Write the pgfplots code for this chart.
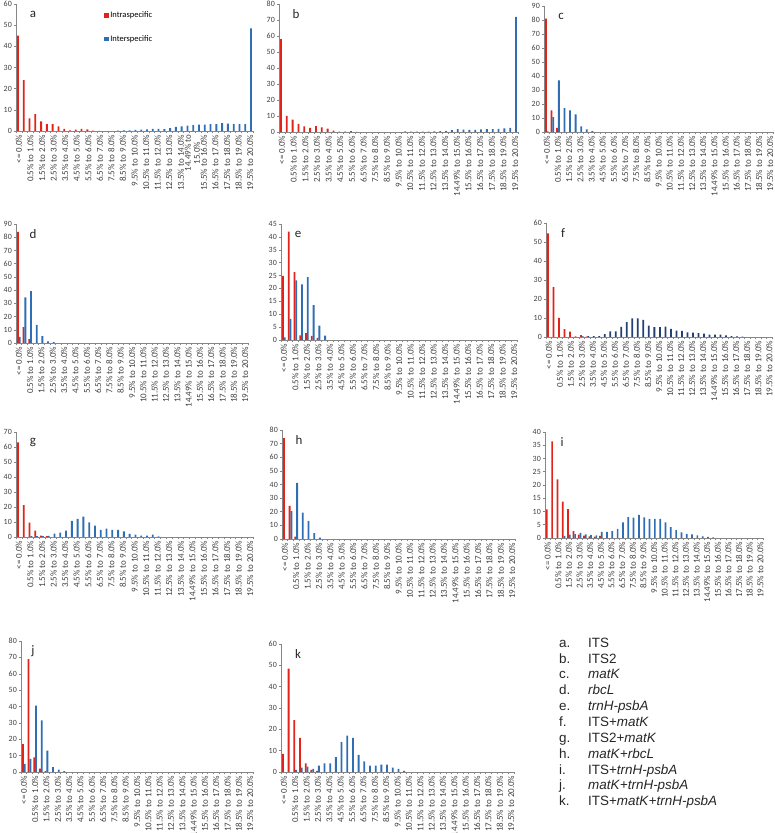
\documentclass[border=0pt]{standalone}
\usepackage{pgfplots}
\pgfplotsset{compat=1.18}
\usepackage{fontspec}
\setmainfont{Carlito}
\newfontfamily\arialf{Liberation Sans}
\definecolor{intra}{HTML}{E2231A}
\definecolor{inter}{HTML}{2F6DB5}
\definecolor{interdark}{HTML}{243F73}
\definecolor{axgray}{HTML}{868686}
\definecolor{txtgray}{HTML}{404040}
\newcommand{\catlabels}{{<= 0.0\%},{0.5\% to 1.0\%},{1.5\% to 2.0\%},{2.5\% to 3.0\%},{3.5\% to 4.0\%},{4.5\% to 5.0\%},{5.5\% to 6.0\%},{6.5\% to 7.0\%},{7.5\% to 8.0\%},{8.5\% to 9.0\%},{9.5\% to 10.0\%},{10.5\% to 11.0\%},{11.5\% to 12.0\%},{12.5\% to 13.0\%},{13.5\% to 14.0\%},{14.49\% to 15.0\%},{15.5\% to 16.0\%},{16.5\% to 17.0\%},{17.5\% to 18.0\%},{18.5\% to 19.0\%},{19.5\% to 20.0\%}}
\pgfplotsset{
  panel/.style={
    scale only axis,
    anchor=south west,
    xmin=-0.5, xmax=40.5, ymin=0,
    axis lines*=left,
    axis line style={axgray, line width=0.6pt},
    xtick={0,2,...,40},
    xticklabels/.expand once={\catlabels},
    minor xtick={-0.5,0.5,...,40.5},
    major x tick style={draw=none},
    minor tick length=2.5pt,
    major tick length=2.5pt,
    tick style={axgray, line width=0.5pt},
    tick align=outside,
    xticklabel style={rotate=90, anchor=east, font=\fontsize{9}{9}\selectfont, text=txtgray, inner sep=1pt},
    yticklabel style={font=\fontsize{8}{8}\selectfont, text=txtgray, inner sep=1.5pt},
    /pgf/number format/assume math mode=true,
    clip=false,
  },
  rbar/.style={ybar, bar width=0.32, bar shift=-0.16, fill=intra, draw=none},
  bbar/.style={ybar, bar width=0.32, bar shift=0.16, fill=inter, draw=none},
}
\tikzset{plab/.style={font=\fontsize{13}{13}\selectfont, text=black!85, xshift=17bp, yshift=-10bp}}
\begin{document}
\begin{tikzpicture}
\useasboundingbox (0,0) rectangle (775bp,833bp);
% ---------- a: ITS
\begin{axis}[panel, at={(16bp,702bp)}, width=237bp, height=127bp, ymax=60, ytick={0,10,...,60},
  xticklabels={{<= 0.0\%},{0.5\% to 1.0\%},{1.5\% to 2.0\%},{2.5\% to 3.0\%},{3.5\% to 4.0\%},{4.5\% to 5.0\%},{5.5\% to 6.0\%},{6.5\% to 7.0\%},{7.5\% to 8.0\%},{8.5\% to 9.0\%},{9.5\% to 10.0\%},{10.5\% to 11.0\%},{11.5\% to 12.0\%},{12.5\% to 13.0\%},{13.5\% to 14.0\%},{14.49\% to\\15.0\%},{15.5\% to 16.0\%},{16.5\% to 17.0\%},{17.5\% to 18.0\%},{18.5\% to 19.0\%},{19.5\% to 20.0\%}},
  xticklabel style={align=center},
  legend style={at={(rel axis cs:0.37,0.95)}, anchor=north west, draw=none, fill=none, font=\fontsize{8.5}{9}\selectfont, row sep=13pt, inner sep=0pt, nodes={inner sep=1.5pt}}, legend cell align=left]
\addplot[rbar, legend image code/.code={\fill[intra] (0pt,-2.5pt) rectangle (5pt,2.5pt);}] coordinates {(0,45) (1,24) (2,6) (3,8) (4,4.5) (5,3.2) (6,3.2) (7,2.2) (8,1.0) (9,0.3) (10,0.6) (11,1.0) (12,0.8) (13,0.2) (14,0.1)};
\addplot[bbar, legend image code/.code={\fill[inter] (0pt,-2.5pt) rectangle (5pt,2.5pt);}] coordinates {(17,0.2) (18,0.3) (19,0.3) (20,0.5) (21,0.7) (22,0.8) (23,1.0) (24,1.0) (25,0.9) (26,1.3) (27,2.0) (28,2.2) (29,2.5) (30,2.8) (31,3.0) (32,3.0) (33,3.2) (34,3.3) (35,3.7) (36,3.5) (37,3.4) (38,3.3) (39,3.2) (40,48.5)};
\legend{Intraspecific, Interspecific}
\node[plab] at (rel axis cs:0,1) {a};
\end{axis}
% ---------- b: ITS2
\begin{axis}[panel, at={(279bp,701bp)}, width=239bp, height=128bp, ymax=80, ytick={0,10,...,80}]
\addplot[rbar] coordinates {(0,58) (1,10) (2,7.7) (3,5.0) (4,3.5) (5,2.5) (6,3.7) (7,2.9) (8,2.1) (9,0.8) (10,0.2) (11,0.3) (12,0.6) (13,0.1)};
\addplot[bbar] coordinates {(21,0.4) (22,0.2) (23,0.2) (24,0.3) (25,0.3) (26,0.4) (27,0.5) (28,0.6) (29,1.2) (30,1.8) (31,1.5) (32,1.3) (33,1.3) (34,1.6) (35,1.8) (36,1.8) (37,2.0) (38,2.2) (39,2.6) (40,72)};
\node[plab] at (rel axis cs:0,1) {b};
\end{axis}
% ---------- c: matK
\begin{axis}[panel, at={(544bp,701bp)}, width=229bp, height=126bp, ymax=90, ytick={0,10,...,90}]
\addplot[rbar] coordinates {(0,81) (1,15.5) (2,2.9)};
\addplot[bbar] coordinates {(0,0.5) (1,10.7) (2,36.9) (3,17.1) (4,15.5) (5,12.6) (6,4.0) (7,1.9) (8,0.7)};
\node[plab] at (rel axis cs:0,1) {c};
\end{axis}
% ---------- d: rbcL
\begin{axis}[panel, at={(16bp,490bp)}, width=232bp, height=119bp, ymax=90, ytick={0,10,...,90}]
\addplot[rbar] coordinates {(0,84) (1,12) (2,3.0)};
\addplot[bbar] coordinates {(0,4.7) (1,34.5) (2,39.2) (3,13.7) (4,5.2) (5,1.2) (6,0.7)};
\node[plab] at (rel axis cs:0,1) {d};
\end{axis}
% ---------- e: trnH-psbA
\begin{axis}[panel, at={(281bp,493bp)}, width=236bp, height=116bp, ymax=45, ytick={0,5,...,45}]
\addplot[rbar] coordinates {(0,24.8) (1,42) (2,26.3) (3,1.8) (4,2.7) (5,1.6) (6,0.8)};
\addplot[bbar] coordinates {(0,1.0) (1,8.2) (2,23.1) (3,21.6) (4,24.4) (5,13.5) (6,5.6) (7,1.7)};
\node[plab] at (rel axis cs:0,1) {e};
\end{axis}
% ---------- f: ITS+matK
\begin{axis}[panel, at={(546bp,496bp)}, width=226bp, height=114bp, ymax=60, ytick={0,10,...,60}]
\addplot[rbar] coordinates {(0,54.5) (1,26.2) (2,10.0) (3,4.2) (4,2.8) (5,0.3) (6,1.0) (7,0.2)};
\addplot[bbar, fill=interdark] coordinates {(6,0.3) (7,0.4) (8,0.5) (9,0.5) (10,1.5) (11,3.0) (12,3.0) (13,5.3) (14,7.8) (15,9.8) (16,9.8) (17,9.0) (18,6.0) (19,5.2) (20,5.2) (21,5.5) (22,4.3) (23,3.3) (24,3.2) (25,2.4) (26,2.3) (27,2.1) (28,1.8) (29,1.3) (30,1.2) (31,1.2) (32,0.9) (33,0.5) (34,0.3) (35,0.2)};
\node[plab] at (rel axis cs:0,1) {f};
\end{axis}
% ---------- g: ITS2+matK
\begin{axis}[panel, at={(16bp,296bp)}, width=237bp, height=105bp, ymax=70, ytick={0,10,...,70}]
\addplot[rbar] coordinates {(0,63) (1,21.3) (2,9.6) (3,4.2) (4,0.9) (5,0.5)};
\addplot[bbar] coordinates {(2,0.5) (3,0.5) (4,0.5) (5,0.7) (6,2.2) (7,2.9) (8,4.2) (9,10.7) (10,12.0) (11,13.6) (12,9.8) (13,7.6) (14,4.7) (15,5.6) (16,4.7) (17,4.7) (18,3.8) (19,2.0) (20,1.6) (21,0.9) (22,0.9) (23,1.6) (24,0.4)};
\node[plab] at (rel axis cs:0,1) {g};
\end{axis}
% ---------- h: matK+rbcL
\begin{axis}[panel, at={(282bp,294bp)}, width=233bp, height=109bp, ymax=80, ytick={0,10,...,80}]
\addplot[rbar] coordinates {(0,74) (1,24.3) (2,1.7)};
\addplot[bbar] coordinates {(1,20.4) (2,41.2) (3,19.4) (4,13.3) (5,4.4) (6,1.0)};
\node[plab] at (rel axis cs:0,1) {h};
\end{axis}
% ---------- i: ITS+trnH-psbA
\begin{axis}[panel, at={(545bp,295bp)}, width=218bp, height=106bp, ymax=40, ytick={0,5,...,40}]
\addplot[rbar] coordinates {(0,10.8) (1,36.5) (2,22.1) (3,13.7) (4,10.9) (5,2.6) (6,1.3) (7,0.9) (8,0.6) (9,0.5) (10,0.8)};
\addplot[bbar] coordinates {(3,0.8) (4,1.3) (5,1.5) (6,1.9) (7,1.4) (8,1.1) (9,1.0) (10,2.3) (11,2.3) (12,2.6) (13,3.4) (14,5.9) (15,7.9) (16,7.7) (17,8.7) (18,7.8) (19,7.2) (20,7.2) (21,7.2) (22,5.9) (23,4.1) (24,3.0) (25,2.1) (26,1.5) (27,1.4) (28,1.0) (29,0.6) (30,0.4) (31,0.2)};
\node[plab] at (rel axis cs:0,1) {i};
\end{axis}
% ---------- j: matK+trnH-psbA
\begin{axis}[panel, at={(21bp,61bp)}, width=232bp, height=131bp, ymax=80, ytick={0,10,...,80}]
\addplot[rbar] coordinates {(0,17) (1,69) (2,9) (3,2) (4,0.5)};
\addplot[bbar] coordinates {(0,5) (1,8) (2,40.5) (3,31.5) (4,13) (5,3) (6,1.5) (7,0.5)};
\node[plab, xshift=-5bp] at (rel axis cs:0,1) {j};
\end{axis}
% ---------- k: ITS+matK+trnH-psbA
\begin{axis}[panel, at={(281bp,61bp)}, width=233bp, height=128bp, ymax=60, ytick={0,10,...,60}]
\addplot[rbar] coordinates {(0,8.5) (1,48.5) (2,24.3) (3,16) (4,4) (5,1) (6,0.5)};
\addplot[bbar] coordinates {(2,1) (3,2) (4,2.5) (5,1.5) (6,3) (7,4) (8,4) (9,7) (10,14) (11,17) (12,16) (13,8) (14,5) (15,3) (16,3) (17,3.5) (18,3.5) (19,2) (20,1.5) (21,0.5)};
\node[plab] at (rel axis cs:0,1) {k};
\end{axis}
% ---------- key
\node[anchor=north west, inner sep=0pt, text=black!85] at (559bp,197bp) {\arialf\fontsize{13.5}{15.9}\selectfont
\begin{tabular}{@{}l@{\hspace{17.7bp}}l@{}}
a. & ITS\\
b. & ITS2\\
c. & \textit{matK}\\
d. & \textit{rbcL}\\
e. & \textit{trnH-psbA}\\
f. & ITS+\textit{matK}\\
g. & ITS2+\textit{matK}\\
h. & \textit{matK}+\textit{rbcL}\\
i. & ITS+\textit{trnH-psbA}\\
j. & \textit{matK}+\textit{trnH-psbA}\\
k. & ITS+\textit{matK}+\textit{trnH-psbA}\\
\end{tabular}};
\end{tikzpicture}
\end{document}
